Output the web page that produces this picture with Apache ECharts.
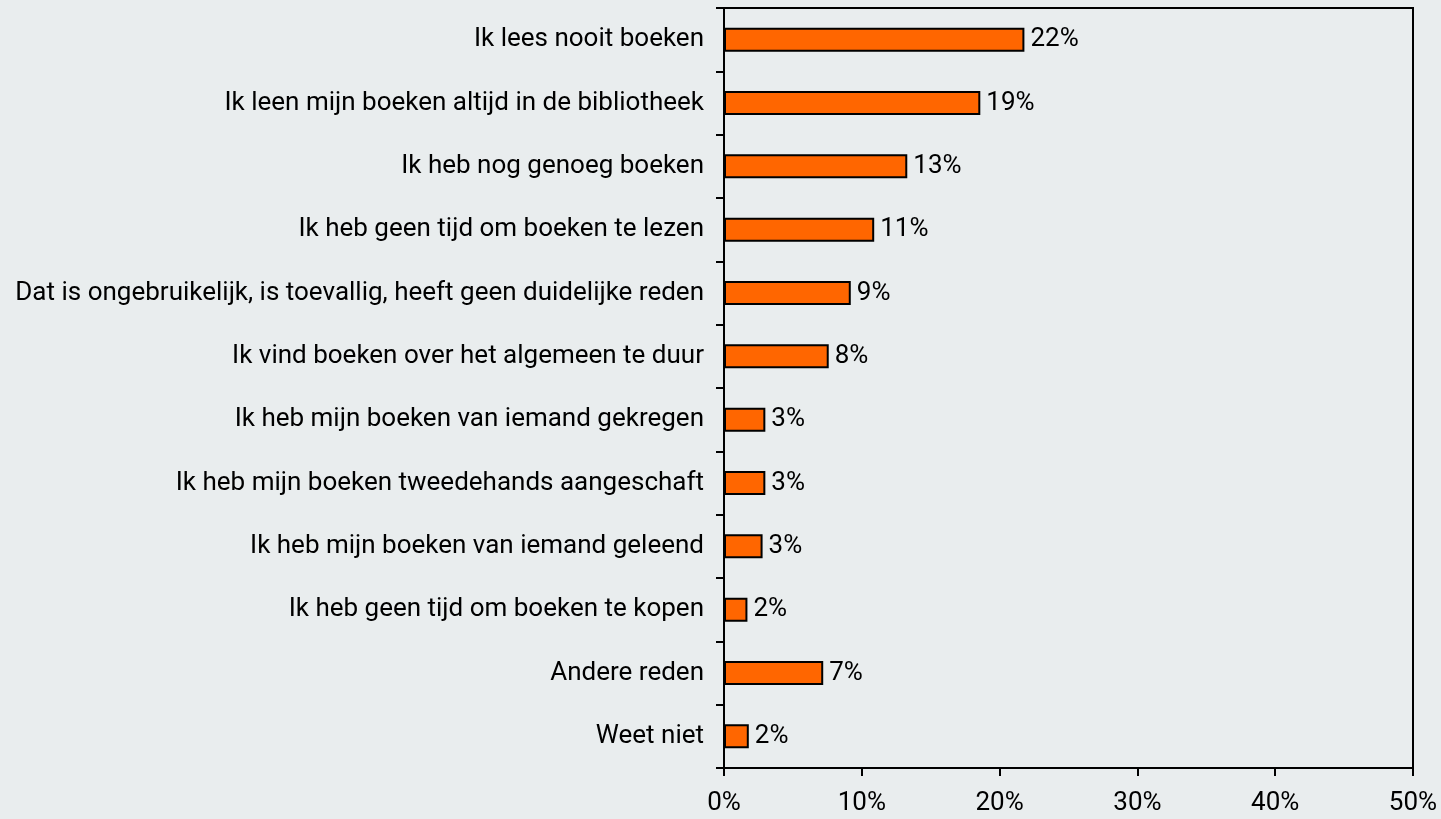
<!DOCTYPE html>
<html>
<head>
<meta charset="utf-8">
<script src="https://cdn.jsdelivr.net/npm/echarts@6/dist/echarts.min.js"></script>
<style>
  html, body { margin: 0; padding: 0; background: #e9edee; }
  #chart { width: 1441px; height: 819px; }
</style>
</head>
<body>
<div id="chart"></div>
<script>
// Redenen om geen boeken te kopen (percentage respondenten)
const categories = [
  'Ik lees nooit boeken',
  'Ik leen mijn boeken altijd in de bibliotheek',
  'Ik heb nog genoeg boeken',
  'Ik heb geen tijd om boeken te lezen',
  'Dat is ongebruikelijk, is toevallig, heeft geen duidelijke reden',
  'Ik vind boeken over het algemeen te duur',
  'Ik heb mijn boeken van iemand gekregen',
  'Ik heb mijn boeken tweedehands aangeschaft',
  'Ik heb mijn boeken van iemand geleend',
  'Ik heb geen tijd om boeken te kopen',
  'Andere reden',
  'Weet niet'
];
const values = [21.8, 18.6, 13.3, 10.9, 9.2, 7.6, 3.0, 3.0, 2.8, 1.7, 7.2, 1.8];
const xTicks = [0, 10, 20, 30, 40, 50];

const FONT = 'Roboto';
const FS = 26;
const chart = echarts.init(document.getElementById('chart'), null, { renderer: 'canvas' });

chart.setOption({
  backgroundColor: '#e9edee',
  animation: false,
  textStyle: { fontFamily: FONT },
  grid: {
    left: 724, right: 28, top: 8, bottom: 51,
    show: true, borderColor: '#000', borderWidth: 2, backgroundColor: 'transparent'
  },
  xAxis: {
    type: 'value',
    min: xTicks[0], max: xTicks[xTicks.length - 1], interval: 10,
    axisLine: { show: true, lineStyle: { color: '#000', width: 2 } },
    axisTick: { show: true, length: 8, lineStyle: { color: '#000', width: 2 } },
    splitLine: { show: false },
    axisLabel: {
      color: '#000', fontFamily: FONT, fontSize: FS, margin: 22,
      formatter: v => v + '%'
    }
  },
  yAxis: {
    type: 'category',
    data: categories,
    inverse: true,
    axisLine: { show: true, lineStyle: { color: '#000', width: 2 } },
    axisTick: { show: true, length: 8, lineStyle: { color: '#000', width: 2 } },
    axisLabel: { color: '#000', fontFamily: FONT, fontSize: FS, margin: 20 }
  },
  series: [{
    type: 'bar',
    data: values,
    barWidth: '38%',
    itemStyle: { color: '#ff6600', borderColor: '#000', borderWidth: 2 },
    label: {
      show: true, position: 'right', distance: 6,
      color: '#000', fontFamily: FONT, fontSize: FS,
      formatter: p => Math.round(p.value) + '%'
    }
  }]
});
</script>
</body>
</html>
